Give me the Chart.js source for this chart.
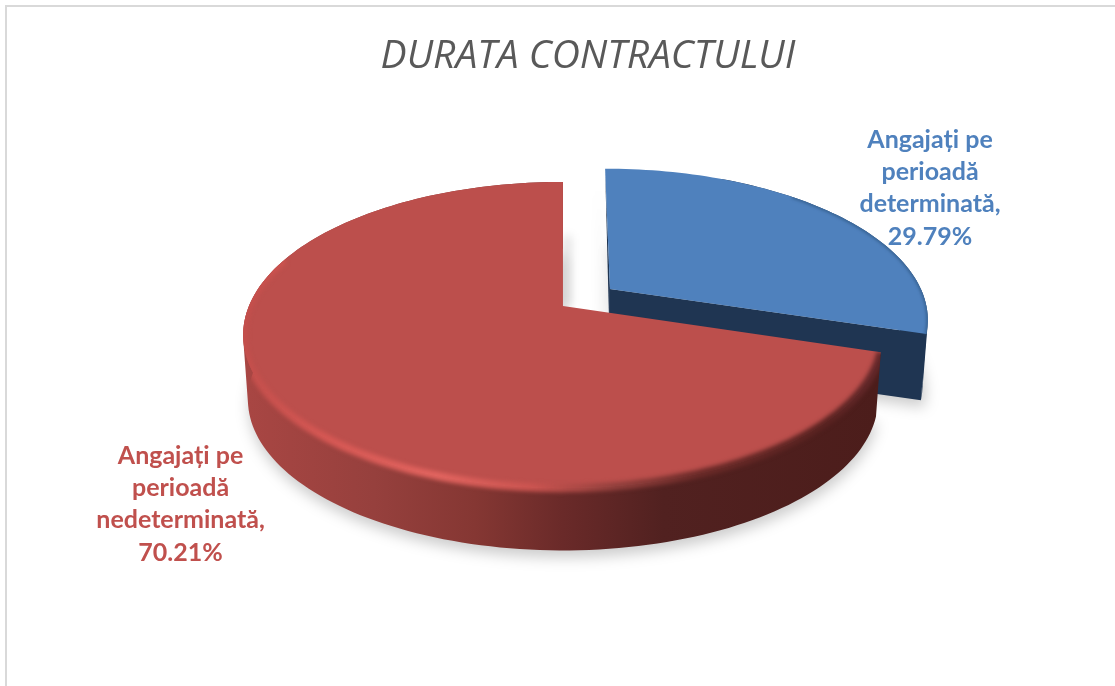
<!DOCTYPE html>
<html><head><meta charset="utf-8">
<style>html,body{margin:0;padding:0;background:#fff}#wrap{width:1115px;height:686px}</style>
<script src="https://cdn.jsdelivr.net/npm/chart.js@4"></script>
</head><body><div id="wrap"><canvas id="c" width="1115" height="686"></canvas></div>
<script>
const categories = ['Angajați pe perioadă determinată', 'Angajați pe perioadă nedeterminată'];
const labelLines = [['Angajați pe','perioadă','determinată,'], ['Angajați pe','perioadă','nedeterminată,']];
const percentValues = [29.79, 70.21];
const sliceColors = ['#4f81bd', '#bc4f4c'];
const labelColors = ['#4f81bd', '#c0504d'];
const chartTitle = 'DURATA CONTRACTULUI';

const K = 0.19, SQUASH = 0.47, SEG = 120;
const views = [
  {dx:47, dy:-17, xs:.99, ys:.97, sh:5, bxs:.975, by:67},
  {dx:0,  dy:0,   xs:1,   ys:1,   sh:0, bxs:.985, by:65}
];
function proj(scene, v, a, r, bottom){
  const U = r*Math.cos(a), V = r*Math.sin(a), d = 1-K*V;
  const y0 = v.ys*scene.R*SQUASH*V/d;
  const xs = bottom ? v.bxs : v.xs;
  const sh = bottom ? v.sh*0.6 : v.sh;
  const ys = bottom ? .985 : 1;
  return {x: scene.cx+v.dx + xs*scene.R*U/d + sh*y0/(scene.R*SQUASH*.84),
          y: scene.cy+v.dy + ys*y0 + (bottom? v.by:0)};
}
function arcPts(scene,v,a0,a1,r,bottom){
  const p=[]; const n=Math.max(6,Math.ceil(SEG*Math.abs(a1-a0)/Math.PI));
  for(let i=0;i<=n;i++) p.push(proj(scene,v,a0+(a1-a0)*i/n,r,bottom));
  return p;
}
function poly(ctx,pts){ctx.beginPath();pts.forEach((p,i)=>i?ctx.lineTo(p.x,p.y):ctx.moveTo(p.x,p.y));ctx.closePath();}
function stops(g,list){list.forEach(s=>g.addColorStop(s[0],s[1]));return g;}
function area(q){let s=0;q.forEach((p,i)=>{const n=q[(i+1)%q.length];s+=p.x*n.y-n.x*p.y;});return s;}
// one path of consistently wound quads: the swept wall has a tangent silhouette and no seams
function sweepPath(ctx,T,B){
  ctx.beginPath();
  for(let j=0;j<T.length-1;j++){
    let q=[T[j],T[j+1],B[j+1],B[j]];
    if(area(q)<0) q=q.reverse();
    q.forEach((p,k)=>k?ctx.lineTo(p.x,p.y):ctx.moveTo(p.x,p.y));
    ctx.closePath();
  }
}

const pie3d = {
  id:'pie3d',
  beforeDraw(chart){
    const c=chart.ctx; c.save(); c.fillStyle='#d9d9d9';
    c.fillRect(5,5,chart.width-5,2); c.fillRect(5,5,2,chart.height-5); c.restore();
  },
  beforeDatasetsDraw(chart){
    const ctx=chart.ctx, arcs=chart.getDatasetMeta(0).data;
    const scene={cx:chart.width*0.5049, cy:chart.height*0.446, R:arcs[0].outerRadius};
    [0,1].forEach(i=>{
      const arc=arcs[i], v=views[i], a0=arc.startAngle, a1=arc.endAngle;
      const apex=proj(scene,v,0,0,false), apexB=proj(scene,v,0,0,true);
      const top=arcPts(scene,v,a0,a1,1,false), bot=arcPts(scene,v,a0,a1,1,true);
      ctx.save();
      const sideStart=i===0?a0+0.45:a0;
      const sideT=arcPts(scene,v,sideStart,a1,1,false), sideB=arcPts(scene,v,sideStart,a1,1,true);
      let grad;
      if(i===1){
        grad=stops(ctx.createLinearGradient(scene.cx-scene.R,0,scene.cx+scene.R,0),[
          [0,'#a84643'],[.2,'#96403d'],[.36,'#853733'],[.5,'#6a2a29'],[.66,'#512120'],[1,'#4c1d1b']]);
      } else grad='#1f3552';
      ctx.save();
      ctx.filter='blur(7px)'; ctx.fillStyle='rgba(0,0,0,.2)';
      poly(ctx,[apexB].concat(bot).map(p=>({x:p.x+(i?1:3),y:p.y+7}))); ctx.fill();
      ctx.restore();
      if(i===0){
        ctx.save(); ctx.filter='blur(5px)'; ctx.fillStyle='rgba(0,0,0,.18)';
        poly(ctx,[top[0],apex,apexB].map(p=>({x:p.x-7,y:p.y+12}))); ctx.fill(); ctx.restore();
      } else {
        ctx.save(); ctx.filter='blur(5px)'; ctx.fillStyle='rgba(0,0,0,.13)';
        poly(ctx,[{x:apex.x,y:apex.y},{x:apex.x,y:apex.y-70},{x:apex.x+8,y:apex.y-70},{x:apex.x+8,y:apex.y}]); ctx.fill(); ctx.restore();
      }
      ctx.fillStyle=grad; ctx.lineJoin='round';
      sweepPath(ctx,sideT,sideB); ctx.fill('nonzero');
      if(i===0){
        const endT=top[top.length-1], endB=bot[bot.length-1];
        poly(ctx,[apex,endT,endB,apexB]); ctx.fill();
        poly(ctx,[top[0],apex,apexB]); ctx.fill();
      }
      ctx.fillStyle=sliceColors[i];
      poly(ctx,[apex].concat(top)); ctx.fill();
      // soft bevel, kept inside the slice's silhouette
      ctx.save();
      ctx.beginPath();
      const pushPath=pp=>{pp.forEach((p,j)=>j?ctx.lineTo(p.x,p.y):ctx.moveTo(p.x,p.y));ctx.closePath();};
      pushPath([apex].concat(top));
      pushPath(sideT.concat(sideB.slice().reverse()));
      ctx.clip();
      ctx.lineCap='butt';
      if(i===1){
        const rim=stops(ctx.createLinearGradient(scene.cx-scene.R,0,scene.cx+scene.R,0),[
          [0,'#c44f4c'],[.12,'#d55753'],[.3,'#e2645f'],[.45,'#cb5450'],[.58,'#93403d'],[.72,'#6a2a28'],[.92,'#5a2321'],[1,'#64282a']]);
        ctx.filter='blur(2px)';
        ctx.strokeStyle=rim; ctx.lineWidth=8;
        const pts=arcPts(scene,v,a0,a0+(a1-a0)*0.72,1.0,false);
        ctx.beginPath(); pts.forEach((p,j)=>j?ctx.lineTo(p.x,p.y):ctx.moveTo(p.x,p.y)); ctx.stroke();
      } else {
        ctx.filter='blur(1.5px)';
        ctx.strokeStyle='#35608f'; ctx.lineWidth=3;
        const pts=arcPts(scene,v,a0+(a1-a0)*.4,a1,1,false);
        ctx.beginPath(); pts.forEach((p,j)=>j?ctx.lineTo(p.x,p.y):ctx.moveTo(p.x,p.y)); ctx.stroke();
      }
      ctx.restore();
      ctx.restore();
    });
    return false;
  },
  afterDraw(chart){
    const ctx=chart.ctx;
    const spots=[[0.8341,0.2741],[0.1619,0.7347]];
    ctx.save();
    ctx.font='bold 25px Lato'; ctx.textAlign='center'; ctx.textBaseline='middle';
    percentValues.forEach((val,i)=>{
      const lines=labelLines[i].concat(val.toFixed(2)+'%');
      ctx.fillStyle=labelColors[i];
      const x=chart.width*spots[i][0], y=chart.height*spots[i][1];
      lines.forEach((t,j)=>ctx.fillText(t,x,y+(j-1.5)*32.3));
    });
    ctx.restore();
  }
};

new Chart(document.getElementById('c'),{
  type:'pie',
  data:{labels:categories,datasets:[{data:percentValues,backgroundColor:sliceColors,borderWidth:0}]},
  options:{
    responsive:false,animation:false,radius:314,
    layout:{padding:{left:61}},
    plugins:{
      legend:{display:false},tooltip:{enabled:false},
      title:{display:true,text:chartTitle,color:'#595959',
        font:{family:'Open Sans',style:'italic',weight:'400',size:39},
        padding:{top:33,bottom:10}}
    }
  },
  plugins:[pie3d]
});
</script></body></html>
